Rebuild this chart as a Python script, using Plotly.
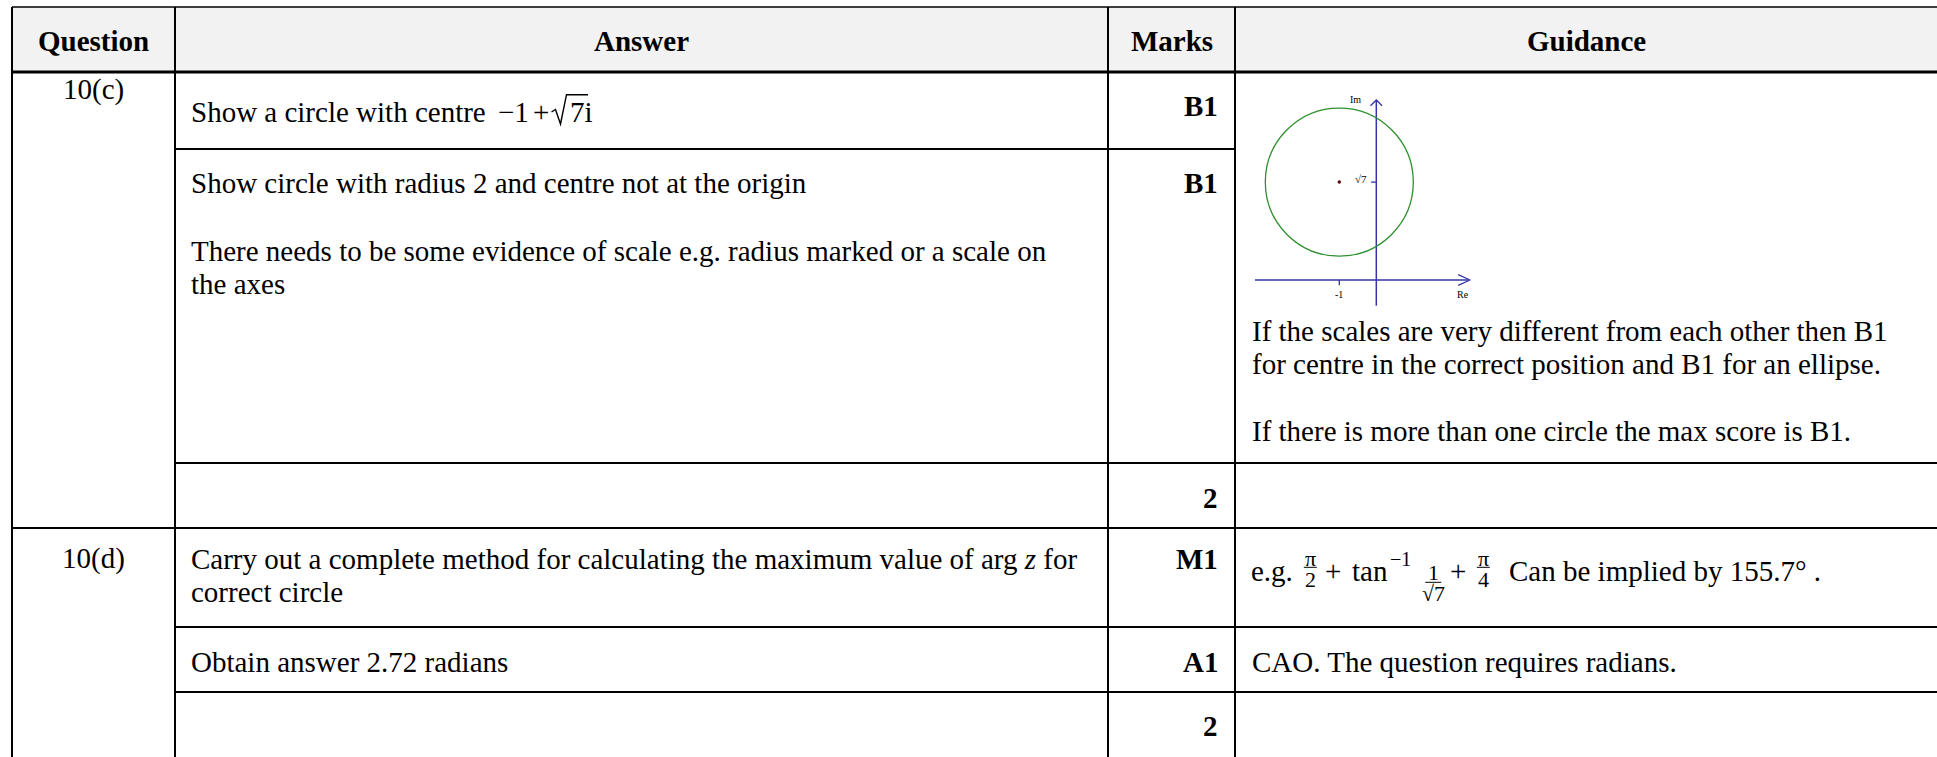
import numpy as np
import plotly.graph_objects as go

W, H = 1937, 757

# ---------------- table content ----------------
header_labels = ["Question", "Answer", "Marks", "Guidance"]
question_labels = ["10(c)", "10(d)"]
answer_lines = [
    "Show a circle with centre",
    "Show circle with radius 2 and centre not at the origin",
    "There needs to be some evidence of scale e.g. radius marked or a scale on",
    "the axes",
    "Carry out a complete method for calculating the maximum value of arg <i>z</i> for",
    "correct circle",
    "Obtain answer 2.72 radians",
]
answer_math = ["−1", "+", "7i"]
mark_labels = ["B1", "B1", "2", "M1", "A1", "2"]
guidance_lines = [
    "If the scales are very different from each other then B1",
    "for centre in the correct position and B1 for an ellipse.",
    "If there is more than one circle the max score is B1.",
    "CAO. The question requires radians.",
]
eg_prefix = "e.g."
eg_fractions = [("π", "2"), ("1", "√7"), ("π", "4")]
eg_ops = ["+", "tan", "−1", "+"]
eg_suffix = "Can be implied by 155.7° ."

# ---------------- sketch values ----------------
circle_centre_re = -1.0
circle_centre_im = float(np.sqrt(7))
circle_radius = 2.0
sketch_tick_re = [-1.0]
sketch_tick_re_labels = ["-1"]
sketch_tick_im = [float(np.sqrt(7))]
sketch_tick_im_labels = ["√7"]
sketch_axis_labels = ["Re", "Im"]

# ---------------- layout geometry (pixels) ----------------
FONT = "Liberation Serif"
FS = 29
col_x = [12, 175, 1108, 1235, 1937]
top_y, head_y = 7, 72

fig = go.Figure()
shapes = []
annotations = []


def hline(y, x0, x1, w=2.0):
    shapes.append(dict(type="line", xref="x", yref="y", x0=x0, x1=x1, y0=y, y1=y,
                       line=dict(color="black", width=w)))


def vline(x, y0, y1, w=2.0):
    shapes.append(dict(type="line", xref="x", yref="y", x0=x, x1=x, y0=y0, y1=y1,
                       line=dict(color="black", width=w)))


def text(s, x, y, xanchor="left", size=FS, bold=False, xref="x", yref="y", color="black"):
    if bold:
        s = "<b>" + s + "</b>"
    annotations.append(dict(text=s, x=x, y=y, xref=xref, yref=yref, xanchor=xanchor,
                            yanchor="middle", showarrow=False,
                            font=dict(family=FONT, size=size, color=color)))


# header background
shapes.append(dict(type="rect", xref="x", yref="y", x0=col_x[0], x1=col_x[-1] + 5,
                   y0=top_y, y1=head_y, fillcolor="#f2f2f2", line=dict(width=0), layer="below"))

# grid lines
hline(top_y, col_x[0], col_x[-1] + 5, 1.6)
hline(head_y, col_x[0], col_x[-1] + 5, 3.2)
hline(149, col_x[1], col_x[3])
hline(463, col_x[1], col_x[-1] + 5)
hline(528, col_x[0], col_x[-1] + 5)
hline(627, col_x[1], col_x[-1] + 5)
hline(692, col_x[1], col_x[-1] + 5)
for cx in col_x[:4]:
    vline(cx, top_y, H + 5)

# header text
head_cx = [(col_x[i] + col_x[i + 1]) / 2 for i in range(4)]
for lbl, cx in zip(header_labels, head_cx):
    text(lbl, cx, 41, xanchor="center", bold=True)

# question labels
for lbl, y in zip(question_labels, [89, 558]):
    text(lbl, head_cx[0], y, xanchor="center")

# answers
ans_y = [112, 183, 251, 284, 559, 592, 662]
for s, y in zip(answer_lines, ans_y):
    text(s, 189, y)
# −1 + √7 i
text(answer_math[0], 496, 112)
text(answer_math[1], 540.5, 112, xanchor="center")
text(answer_math[2], 567.5, 112)
shapes.append(dict(type="path", xref="x", yref="y",
                   path="M 551.5 112 L 555.5 109.5 L 560.5 124 L 566.5 94.7 L 588 94.7",
                   line=dict(color="black", width=1.4)))

# marks
mark_y = [106, 183, 498, 559, 662, 726]
for s, y in zip(mark_labels, mark_y):
    text(s, 1220, y, xanchor="right", bold=True)

# guidance
for s, y in zip(guidance_lines, [331, 364, 431, 662]):
    text(s, 1250, y)

# e.g. line with fractions
base_y = 570.5
text(eg_prefix, 1249, base_y)
frac_x = [1310.3, 1433.3, 1483.3]
frac_num_y = [558.5, 572, 558.5]
frac_bar_y = [567.3, 582.3, 567.3]
frac_den_y = [579, 593, 579]
frac_half = [6.5, 8, 6.5]
for (num, den), fx, ny, by, dy, hw in zip(eg_fractions, frac_x, frac_num_y, frac_bar_y, frac_den_y, frac_half):
    text(num, fx, ny, xanchor="center", size=22)
    text(den, fx, dy, xanchor="center", size=22)
    shapes.append(dict(type="line", xref="x", yref="y", x0=fx - hw, x1=fx + hw, y0=by, y1=by,
                       line=dict(color="black", width=1)))
text(eg_ops[0], 1332.7, base_y, xanchor="center")
text(eg_ops[1], 1350, base_y)
text(eg_ops[2], 1388, 559, size=20)
text(eg_ops[3], 1458.3, base_y, xanchor="center")
text(eg_suffix, 1506.5, base_y)

# ---------------- sketch (complex plane) ----------------
S = 37.0                      # pixels per unit
ox, oy = 1376.3, 280.0        # pixel position of origin
px0, px1, py0, py1 = 1245, 1490, 90, 315
xr = [(px0 - ox) / S, (px1 - ox) / S]
yr = [(oy - py1) / S, (oy - py0) / S]

axis_col = "#3434a6"
re_ext = [(1255 - ox) / S, (1470 - ox) / S]
im_ext = [(oy - 305.7) / S, (oy - 100) / S]

sk = dict(xaxis="x2", yaxis="y2", mode="lines", hoverinfo="skip", showlegend=False)
# Re axis and arrow
fig.add_trace(go.Scatter(x=re_ext, y=[0, 0], line=dict(color=axis_col, width=1.5), **sk))
fig.add_trace(go.Scatter(x=[re_ext[1] - 0.32, re_ext[1], re_ext[1] - 0.32], y=[0.145, 0, -0.145],
                         line=dict(color=axis_col, width=1.3), **sk))
# Im axis and arrow
fig.add_trace(go.Scatter(x=[0, 0], y=im_ext, line=dict(color=axis_col, width=1.5), **sk))
fig.add_trace(go.Scatter(x=[-0.156, 0, 0.156], y=[im_ext[1] - 0.156, im_ext[1], im_ext[1] - 0.156],
                         line=dict(color=axis_col, width=1.3), **sk))
# ticks
for t in sketch_tick_re:
    fig.add_trace(go.Scatter(x=[t, t], y=[0, -0.14], line=dict(color=axis_col, width=1.3), **sk))
for t in sketch_tick_im:
    fig.add_trace(go.Scatter(x=[-0.14, 0], y=[t, t], line=dict(color=axis_col, width=1.3), **sk))
# centre dot
fig.add_trace(go.Scatter(x=[circle_centre_re], y=[circle_centre_im], xaxis="x2", yaxis="y2",
                         mode="markers", marker=dict(color="#5a0a0a", size=3.5),
                         hoverinfo="skip", showlegend=False))
# circle
shapes.append(dict(type="circle", xref="x2", yref="y2",
                   x0=circle_centre_re - circle_radius, x1=circle_centre_re + circle_radius,
                   y0=circle_centre_im - circle_radius, y1=circle_centre_im + circle_radius,
                   line=dict(color="#2e8f2e", width=1.3)))
# sketch labels
for t, lbl in zip(sketch_tick_re, sketch_tick_re_labels):
    text(lbl, t, -0.39, xanchor="center", size=10, xref="x2", yref="y2")
for t, lbl in zip(sketch_tick_im, sketch_tick_im_labels):
    text(lbl, -0.42, t + 0.08, xanchor="center", size=11, xref="x2", yref="y2")
text(sketch_axis_labels[0], 2.33, -0.39, xanchor="center", size=10, xref="x2", yref="y2")
text(sketch_axis_labels[1], -0.57, 4.87, xanchor="center", size=10, xref="x2", yref="y2")

fig.update_layout(
    width=W, height=H,
    margin=dict(l=0, r=0, t=0, b=0),
    paper_bgcolor="white", plot_bgcolor="rgba(0,0,0,0)",
    showlegend=False,
    xaxis=dict(range=[0, W], visible=False, domain=[0, 1], fixedrange=True),
    yaxis=dict(range=[H, 0], visible=False, domain=[0, 1], fixedrange=True),
    xaxis2=dict(range=xr, visible=False, domain=[px0 / W, px1 / W], anchor="y2", fixedrange=True),
    yaxis2=dict(range=yr, visible=False, domain=[1 - py1 / H, 1 - py0 / H], anchor="x2", fixedrange=True),
    shapes=shapes,
    annotations=annotations,
)

fig.write_html("out.html", config=dict(displayModeBar=False),
               post_script="document.body.style.margin='0';document.body.style.overflow='hidden';")
